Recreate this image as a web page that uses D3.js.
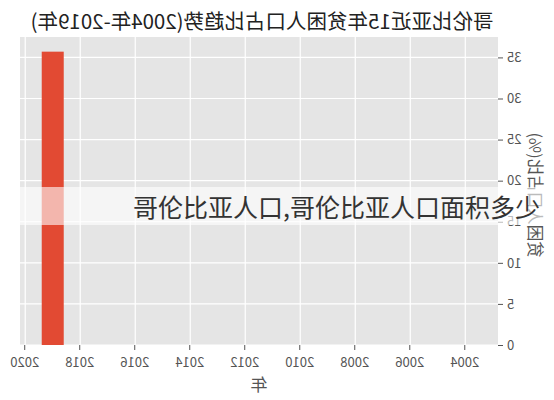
<!DOCTYPE html>
<html>
<head>
<meta charset="utf-8">
<script src="https://cdn.jsdelivr.net/npm/d3@7"></script>
<style>
  body { margin: 0; background: #fff; }
  svg { display: block; }
</style>
</head>
<body>
<svg id="chart" width="554" height="400"></svg>
<script>
// data (years with no reading are 0)
const years = [2004, 2005, 2006, 2007, 2008, 2009, 2010, 2011, 2012, 2013, 2014, 2015, 2016, 2017, 2018, 2019];
const poverty = [0, 0, 0, 0, 0, 0, 0, 0, 0, 0, 0, 0, 0, 0, 0, 35.7];
const xTicks = [2004, 2006, 2008, 2010, 2012, 2014, 2016, 2018, 2020];
const yTicks = [0, 5, 10, 15, 20, 25, 30, 35];

const title = "哥伦比亚近15年贫困人口占比趋势(2004年-2019年)";
const xTitle = "年";
const yTitle = "贫困人口占比(%)";
const watermark = "哥伦比亚人口,哥伦比亚人口面积多少";

const width = 554, height = 400;
const margin = { top: 37, right: 20, bottom: 55, left: 56 };
const cjk = "'Noto Sans CJK SC', 'DejaVu Sans', sans-serif";

const svg = d3.select("#chart");

// the reference picture is a mirror image, so the whole chart gets flipped
const g = svg.append("g")
    .attr("transform", `translate(${width},0) scale(-1,1)`);

const barWidth = 0.8;
const pad = (years[years.length - 1] - years[0] + barWidth) * 0.05;

const x = d3.scaleLinear()
    .domain([years[0] - barWidth / 2 - pad, years[years.length - 1] + barWidth / 2 + pad])
    .range([margin.left, width - margin.right]);

const y = d3.scaleLinear()
    .domain([0, d3.max(poverty) * 1.05])
    .range([height - margin.bottom, margin.top]);

// panel
g.append("rect")
    .attr("x", margin.left)
    .attr("y", margin.top)
    .attr("width", width - margin.left - margin.right)
    .attr("height", height - margin.top - margin.bottom)
    .attr("fill", "#E5E5E5");

// grid
g.append("g")
    .selectAll("line.vgrid")
    .data(xTicks)
    .join("line")
    .attr("class", "vgrid")
    .attr("x1", d => x(d)).attr("x2", d => x(d))
    .attr("y1", margin.top).attr("y2", height - margin.bottom)
    .attr("stroke", "#fff").attr("stroke-width", 1.2);

g.append("g")
    .selectAll("line.hgrid")
    .data(yTicks)
    .join("line")
    .attr("class", "hgrid")
    .attr("x1", margin.left).attr("x2", width - margin.right)
    .attr("y1", d => y(d)).attr("y2", d => y(d))
    .attr("stroke", "#fff").attr("stroke-width", 1.2);

// bars
g.append("g")
    .attr("fill", "#E24A33")
    .selectAll(".bar")
    .data(years.map((yr, i) => ({ year: yr, value: poverty[i] })))
    .join("rect")
    .attr("class", "bar")
    .attr("x", d => x(d.year - barWidth / 2))
    .attr("width", x(barWidth) - x(0))
    .attr("y", d => y(d.value))
    .attr("height", d => y(0) - y(d.value));

// axes
const xAxis = g.append("g")
    .attr("transform", `translate(0,${height - margin.bottom})`)
    .call(d3.axisBottom(x).tickValues(xTicks).tickFormat(d3.format("d")).tickSize(5).tickPadding(8));

const yAxis = g.append("g")
    .attr("transform", `translate(${margin.left},0)`)
    .call(d3.axisLeft(y).tickValues(yTicks).tickSize(5).tickPadding(4));

[xAxis, yAxis].forEach(ax => {
    ax.select(".domain").remove();
    ax.selectAll(".tick line").attr("stroke", "#555");
    ax.selectAll(".tick text")
        .attr("fill", "#555")
        .style("font-family", cjk)
        .style("font-size", "13px");
});

// titles
g.append("text")
    .attr("x", (margin.left + width - margin.right) / 2 - 3)
    .attr("y", 29)
    .attr("text-anchor", "middle")
    .style("font-family", cjk)
    .style("font-size", "20.5px")
    .attr("fill", "#222")
    .text(title);

g.append("text")
    .attr("x", (margin.left + width - margin.right) / 2)
    .attr("y", 391)
    .attr("text-anchor", "middle")
    .style("font-family", cjk)
    .style("font-size", "17px")
    .attr("fill", "#555")
    .text(xTitle);

g.append("text")
    .attr("transform", `translate(25,195) rotate(-90)`)
    .attr("text-anchor", "middle")
    .style("font-family", cjk)
    .style("font-size", "16.5px")
    .attr("fill", "#555")
    .text(yTitle);

// watermark band on top, not mirrored
svg.append("rect")
    .attr("x", 0).attr("y", 187)
    .attr("width", width).attr("height", 38)
    .attr("fill", "#fff").attr("opacity", 0.6);

svg.append("text")
    .attr("x", 133)
    .attr("y", 217)
    .style("font-family", cjk)
    .style("font-size", "25px")
    .attr("fill", "#333")
    .text(watermark);
</script>
</body>
</html>
